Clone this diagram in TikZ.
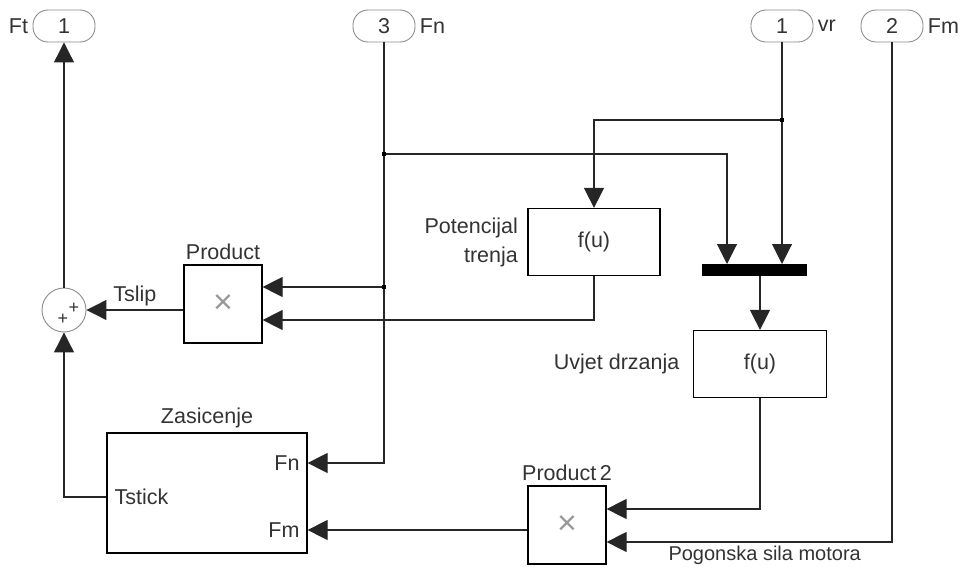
\documentclass[tikz,border=0pt]{standalone}
\usepackage{fontspec}
\setmainfont{Liberation Sans}
\usetikzlibrary{arrows.meta}
\begin{document}
\begin{tikzpicture}[x=1pt, y=-1pt, every node/.style={font=\fontsize{21.5}{23}\selectfont, text=black!80}]
  \tikzstyle{blk}=[draw, line width=1.2pt, inner sep=0pt]
  \tikzstyle{port}=[draw=black!45, line width=0.9pt, rounded corners=15pt, minimum width=62pt, minimum height=32pt, inner sep=0pt]
  \tikzstyle{sig}=[draw=black!85, line width=1.1pt, -{Triangle[length=20pt, width=20pt]}]
  \tikzstyle{jdot}=[fill=black, minimum size=4pt, inner sep=0pt]
  \tikzstyle{mul}=[text=black!40, font=\fontsize{34}{34}\selectfont]
  \useasboundingbox (0,0) rectangle (967,567);
  % ports
  \node[port] (outFt) at (64, 26)  {1};
  \node[port] (inFn)  at (384, 26) {3};
  \node[port] (inVr)  at (782, 26) {1};
  \node[port] (inFm)  at (892, 26) {2};
  \node[left=1pt]  at (outFt.west) {Ft};
  \node[right=1pt] at (inFn.east)  {Fn};
  \node[right=1pt] at (inVr.east)  {vr};
  \node[right=1pt] at (inFm.east)  {Fm};
  % blocks
  \node[draw=black!45, line width=0.9pt, circle, minimum size=44pt, inner sep=0pt] (sum) at (64, 310) {};
  \node[font=\fontsize{18}{18}\selectfont] at (63, 319) {+};
  \node[font=\fontsize{18}{18}\selectfont] at (74, 308) {+};
  \node[blk, minimum width=78pt, minimum height=78pt] (prod) at (223, 304) {};
  \node[mul] at (prod.center) {×};
  \node[blk, minimum width=132pt, minimum height=67pt] (pot) at (594, 242) {f(u)};
  \node[fill=black, minimum width=105pt, minimum height=12pt, inner sep=0pt] (mux) at (754, 270) {};
  \node[blk, minimum width=133pt, minimum height=67pt] (uvj) at (760, 364) {f(u)};
  \node[blk, minimum width=78pt, minimum height=78pt] (prodB) at (567, 525) {};
  \node[mul] at (prodB.center) {×};
  \node[blk, minimum width=200pt, minimum height=120pt] (zas) at (207, 493) {};
  % block labels
  \node[above=1pt] at (prod.north) {Product};
  \node[above=1pt] at (prodB.north) {Product\,2};
  \node[above=1pt] at (zas.north) {Zasicenje};
  \node[left=6pt, align=right, font=\fontsize{21.5}{29}\selectfont] at (pot.west) {Potencijal\\trenja};
  \node[left=10pt] at (uvj.west) {Uvjet drzanja};
  \node[anchor=east] at (303, 463) {Fn};
  \node[anchor=east] at (303, 530) {Fm};
  \node[anchor=west] at (111, 497) {Tstick};
  % junctions
  \coordinate (dFn) at (384, 154);
  \coordinate (dTp) at (384, 287);
  \coordinate (dVr) at (782, 120);
  \coordinate (zasFn) at (zas.east |- 0, 463);
  \coordinate (zasFm) at (zas.east |- 0, 530);
  \coordinate (zasTs) at (zas.west |- 0, 497);
  \coordinate (prodI1) at (prod.east |- dTp);
  \coordinate (prodI2) at (prod.east |- 0, 320);
  \coordinate (muxI1) at (727, 264);
  \coordinate (muxI2) at (782, 264);
  \coordinate (p2I1) at (prodB.east |- 0, 509);
  \coordinate (p2I2) at (prodB.east |- 0, 542);
  % connectors
  \draw[sig] (inFn.south) |- (zasFn);
  \draw[sig] (dFn) -| (muxI1);
  \draw[sig] (dTp) -- (prodI1);
  \draw[sig] (inVr.south) -- (muxI2);
  \draw[sig] (dVr) -| (pot.north);
  \draw[sig] (pot.south) |- (prodI2);
  \draw[sig] (mux.south -| uvj.north) -- (uvj.north);
  \draw[sig] (uvj.south) |- (p2I1);
  \draw[sig] (inFm.south) |- (p2I2);
  \draw[sig] (prodB.west |- zasFm) -- (zasFm);
  \draw[sig] (zasTs) -| (sum.south);
  \draw[sig] (prod.west |- sum) -- node[above=0pt] {Tslip} (sum.east);
  \draw[sig] (sum.north) -- (outFt.south);
  \foreach \j in {dFn, dTp, dVr}
    \node[jdot] at (\j) {};
  \node[anchor=west, font=\fontsize{20}{22}\selectfont] at (665, 555) {Pogonska sila motora};
\end{tikzpicture}
\end{document}
